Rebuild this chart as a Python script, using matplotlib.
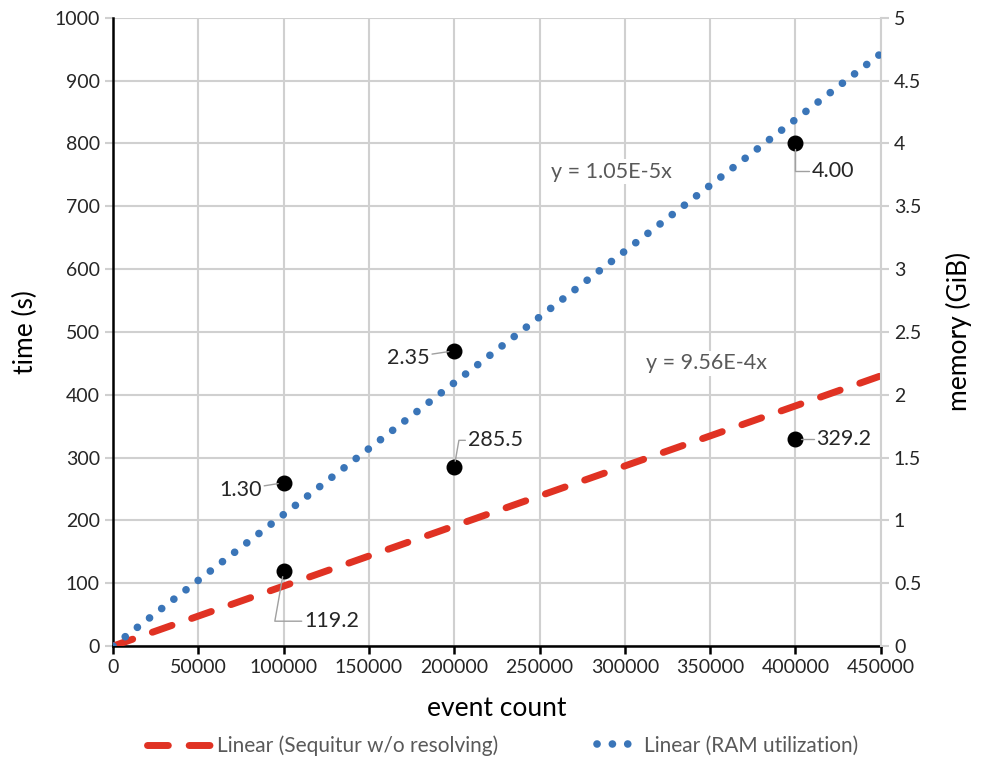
import numpy as np
import matplotlib.pyplot as plt

plt.rcParams['font.family'] = ['Lato', 'DejaVu Sans']

event_count = np.array([100000, 200000, 400000])
time_s = np.array([119.2, 285.5, 329.2])
ram_gib = np.array([1.30, 2.35, 4.00])

time_labels = ['119.2', '285.5', '329.2']
ram_labels = ['1.30', '2.35', '4.00']

x_ticks = np.arange(0, 450001, 50000)
time_ticks = np.arange(0, 1001, 100)
mem_ticks = np.arange(0, 5.01, 0.5)

# linear trend lines through origin (like Excel "set intercept = 0")
def fit_origin(x, y):
    return np.linalg.lstsq(x.reshape(-1, 1), y, rcond=None)[0][0]

def fmt_slope(s):
    m, e = f"{s:.2E}".split('E')
    return f"y = {m}E{int(e)}x"

k_time = fit_origin(event_count, time_s)
k_ram = fit_origin(event_count, ram_gib)

grid_col = '#d0d0d0'
txt_col = '#262626'
gray_txt = '#595959'
red = '#e03223'
blue = '#3a75b8'
dash_red = (0, (3, 3))
dot_blue = (0, (0.01, 2.0))

fig = plt.figure(figsize=(9.83, 7.71), dpi=100)
ax = fig.add_axes([0.115, 0.162, 0.781, 0.815])
ax2 = ax.twinx()

xs = np.array([0, 450000])
red_line, = ax.plot(xs, k_time * xs, color=red, lw=5, linestyle=dash_red,
                    dash_capstyle='round', zorder=3)
blue_line, = ax2.plot(xs, k_ram * xs, color=blue, lw=5.5, linestyle=dot_blue,
                      dash_capstyle='round', zorder=3)

ax.scatter(event_count, time_s, s=110, color='black', zorder=5)
ax2.scatter(event_count, ram_gib, s=110, color='black', zorder=5)

ax.set_xlim(0, 450000)
ax.set_ylim(0, 1000)
ax2.set_ylim(0, 5)
ax.set_xticks(x_ticks)
ax.set_yticks(time_ticks)
ax2.set_yticks(mem_ticks)
ax2.set_yticklabels([f"{v:g}" for v in mem_ticks])

ax.grid(True, color=grid_col, lw=1.5)
ax.set_axisbelow(True)
for s in ['top', 'right']:
    ax.spines[s].set_visible(False)
for s in ['top', 'left', 'bottom']:
    ax2.spines[s].set_visible(False)
ax2.spines['right'].set_color(grid_col)
ax2.spines['right'].set_linewidth(1.5)
ax.spines['left'].set_linewidth(1.8)
ax.spines['bottom'].set_linewidth(1.8)

ax.tick_params(axis='y', colors=grid_col, width=1.5, length=6, labelcolor=txt_col, labelsize=14)
ax.tick_params(axis='x', color='black', width=1.8, length=6, labelcolor=txt_col, labelsize=14)
ax2.tick_params(axis='y', colors=grid_col, width=1.5, length=6, labelcolor=txt_col, labelsize=14)

ax.set_xlabel('event count', fontsize=19, color='black', labelpad=14)
ax.set_ylabel('time (s)', fontsize=19, color='black', labelpad=12)
ax2.set_ylabel('memory (GiB)', fontsize=19, color='black', labelpad=18)

box = dict(facecolor='white', edgecolor='none', pad=2)
ax.text(292000, 755, fmt_slope(k_ram), fontsize=15.5, color=gray_txt,
        ha='center', va='center', bbox=box, zorder=4)
ax.text(348000, 450, fmt_slope(k_time), fontsize=15.5, color=gray_txt,
        ha='center', va='center', bbox=box, zorder=4)

lead = dict(arrowstyle='-', color='#a0a0a0', lw=1, shrinkA=0, shrinkB=4)
# time labels
t_off = [(15, -36), (10, 19), (15, 0)]
for x, y, lab, off in zip(event_count, time_s, time_labels, t_off):
    ax.annotate(lab, (x, y), xytext=off, textcoords='offset points',
                fontsize=15.5, color=txt_col, ha='left', va='center',
                arrowprops=dict(lead, connectionstyle='angle,angleA=0,angleB=80,rad=0'),
                zorder=6)
# memory labels
m_off = [(-16, -5), (-18, -5), (12, -20)]
m_ha = ['right', 'right', 'left']
for x, y, lab, off, ha in zip(event_count, ram_gib, ram_labels, m_off, m_ha):
    cs = 'angle,angleA=0,angleB=90,rad=0' if ha == 'left' else 'arc3'
    ax2.annotate(lab, (x, y), xytext=off, textcoords='offset points',
                 fontsize=15.5, color=txt_col, ha=ha, va='center',
                 arrowprops=dict(lead, connectionstyle=cs), zorder=6)

leg1 = fig.legend([red_line], ['Linear (Sequitur w/o resolving)'], loc='center left',
                  bbox_to_anchor=(0.13, 0.033), frameon=False, fontsize=15,
                  labelcolor=gray_txt, handlelength=3.3, handletextpad=0.1)
leg2 = fig.legend([blue_line], ['Linear (RAM utilization)'], loc='center left',
                  bbox_to_anchor=(0.588, 0.033), frameon=False, fontsize=15,
                  labelcolor=gray_txt, handlelength=2.0, handletextpad=0.25)

fig.savefig('out.png', dpi=100)
